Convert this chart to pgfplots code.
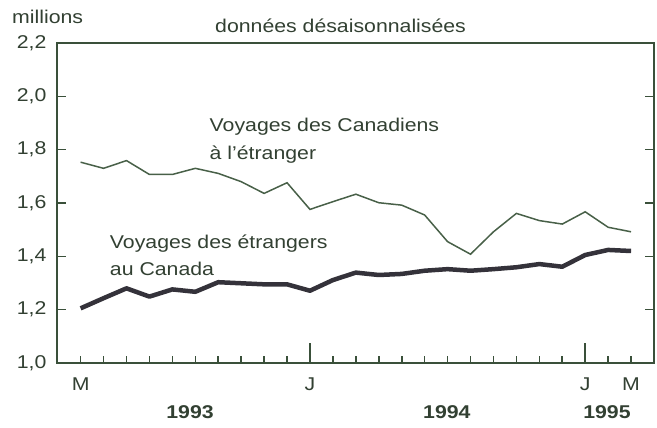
\documentclass[border=0pt]{standalone}
\usepackage{fontspec}
\setmainfont[FakeStretch=1.15]{Liberation Sans}
\usepackage{pgfplots}
\pgfplotsset{compat=1.18}
\definecolor{axc}{RGB}{58,80,58}
\definecolor{thinc}{RGB}{72,96,72}
\definecolor{thickc}{RGB}{52,50,58}
\definecolor{txt}{RGB}{50,64,50}
\begin{document}
\begin{tikzpicture}
\begin{axis}[
  scale only axis,
  width=597bp, height=320bp,
  xmin=-1.03, xmax=25,
  ymin=1.0, ymax=2.2,
  axis line style={draw=axc, line width=1.6bp},
  every tick/.style={draw=axc, line width=1.6bp},
  tick align=inside,
  xtick pos=bottom,
  ytick pos=both,
  ytick=\empty,
  extra y ticks={1.0,1.2,1.4,1.6,1.8,2.0,2.2},
  extra y tick style={major tick length=9bp, ytick pos=both},
  major tick length=20bp,
  xtick={10,22},
  xticklabels={J,J},
  extra x ticks={0,24},
  extra x tick labels={M,M},
  extra x tick style={major tick length=7bp},
  minor xtick={1,2,...,23},
  minor tick length=7bp,
  font=\fontsize{18.5bp}{22bp}\selectfont,
  tick label style={font=\fontsize{18.5bp}{22bp}\selectfont, text=txt},
  /pgf/number format/.cd, assume math mode=true, use comma, fixed, fixed zerofill, precision=1,
  /pgfplots/.cd,
  xticklabel style={anchor=north, yshift=-11bp},
  yticklabel style={anchor=east, xshift=-7bp},
  clip=false,
]
\addplot[thinc, line width=1.5bp] coordinates {
(0,1.753) (1,1.730) (2,1.759) (3,1.707) (4,1.707) (5,1.730) (6,1.711) (7,1.680)
(8,1.636) (9,1.676) (10,1.576) (11,1.605) (12,1.633) (13,1.601) (14,1.592)
(15,1.555) (16,1.455) (17,1.408) (18,1.492) (19,1.561) (20,1.534) (21,1.521)
(22,1.567) (23,1.509) (24,1.492)
};
\addplot[thickc, line width=4.5bp, line join=round] coordinates {
(0,1.205) (1,1.243) (2,1.280) (3,1.249) (4,1.276) (5,1.267) (6,1.303) (7,1.299)
(8,1.295) (9,1.295) (10,1.271) (11,1.311) (12,1.339) (13,1.330) (14,1.334)
(15,1.346) (16,1.352) (17,1.346) (18,1.352) (19,1.359) (20,1.371) (21,1.361)
(22,1.405) (23,1.424) (24,1.420)
};
\node[text=txt, anchor=west, align=left, inner sep=0pt] at (axis cs:5.62,1.832)
  {Voyages des Canadiens\\[6bp]à l'étranger};
\node[text=txt, anchor=west, align=left, inner sep=0pt] at (axis cs:1.27,1.405)
  {Voyages des étrangers\\[5bp]au Canada};
\node[text=txt, anchor=base west, inner sep=0pt] at (rel axis cs:0,1) [xshift=-45bp, yshift=19bp] {millions};
\node[text=txt, anchor=base, inner sep=0pt] at (rel axis cs:0.475,1) [yshift=10bp] {données désaisonnalisées};
\node[text=txt, font=\bfseries\fontsize{18.5bp}{22bp}\selectfont] at (axis cs:4.77,1.0) [yshift=-49bp] {1993};
\node[text=txt, font=\bfseries\fontsize{18.5bp}{22bp}\selectfont] at (axis cs:15.97,1.0) [yshift=-49bp] {1994};
\node[text=txt, font=\bfseries\fontsize{18.5bp}{22bp}\selectfont] at (axis cs:22.95,1.0) [yshift=-49bp] {1995};
\end{axis}
\path (current axis.south west) ++(-57bp,-65bp) rectangle ++(657bp,428bp);
\end{tikzpicture}
\end{document}
